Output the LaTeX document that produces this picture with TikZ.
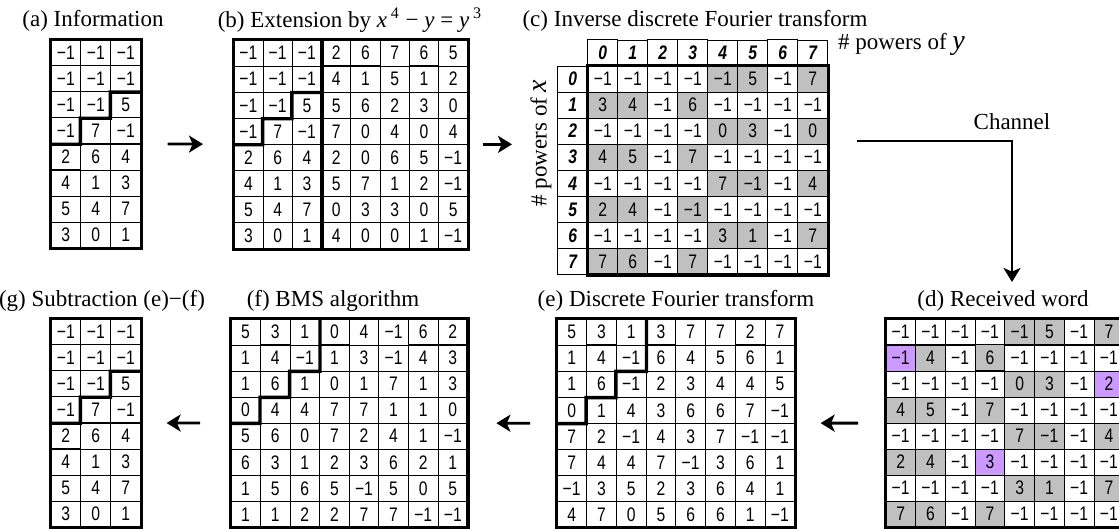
\documentclass[tikz,border=0pt]{standalone}
\usepackage{fontspec}
\setmainfont{Liberation Serif}
\newfontfamily\cellfont[FakeStretch=0.8]{Liberation Sans}
\usetikzlibrary{matrix,arrows.meta,positioning}

\definecolor{shdgray}{RGB}{192,192,192}
\definecolor{errviolet}{RGB}{204,153,255}
\newcommand{\mone}{−1}

\tikzset{
  cell/.style={draw, line width=0.4pt, inner sep=0pt, minimum height=13pt,
    font=\cellfont\fontsize{9.8}{10}\selectfont},
  hdr/.style={font=\cellfont\fontsize{9.8}{10}\selectfont\bfseries\itshape},
  grid/.style={matrix of nodes, inner sep=0pt, anchor=north west,
    column sep=-0.4pt, row sep=-0.4pt, nodes={cell, minimum width=#1}},
  grid/.default=14.875pt,
  shd/.style={fill=shdgray},
  err/.style={fill=errviolet},
  rim/.style={line width=1.7pt},
  ttl/.style={font=\fontsize{11.5}{14}\selectfont},
  flow/.style={line width=1.4pt, -{Stealth[length=7pt, width=8.5pt, inset=1.8pt]}}
}

\begin{document}
\begin{tikzpicture}[x=0.5pt, y=-0.5pt]
\useasboundingbox (0,0) rectangle (1119,529);

% titles
\node[ttl] (ta) at (93,21) {(a) Information};
\node[ttl] (tb) at (350,20) {(b) Extension by \textit{x}\,\textsuperscript{4} − \textit{y} = \textit{y}\,\textsuperscript{3}};
\node[ttl] (tc) at (695,21) {(c) Inverse discrete Fourier transform};
\node[ttl] (td) at (1003,301) {(d) Received word};
\node[ttl] (te) at (676,301) {(e) Discrete Fourier transform};
\node[ttl] (tf) at (333,301) {(f) BMS algorithm};
\node[ttl] (tg) at (102,301) {(g) Subtraction (e)−(f)};

% (a) information
\matrix[grid=15pt] (a) at (50,39) {
  \mone & \mone & \mone \\
  \mone & \mone & \mone \\
  \mone & \mone & 5 \\
  \mone & 7 & \mone \\
  2 & 6 & 4 \\
  4 & 1 & 3 \\
  5 & 4 & 7 \\
  3 & 0 & 1 \\
};
\draw[rim] (a-1-1.north west) rectangle (a-8-3.south east);
\draw[rim] (a-4-1.south west) -- (a-4-2.south west) -- (a-3-2.south west)
  -- (a-3-3.south west) -- (a-2-3.south west) -- (a-2-3.south east);

% (b) extension
\matrix[grid=14.625pt] (b) at (233,39) {
  \mone & \mone & \mone & 2 & 6 & 7 & 6 & 5 \\
  \mone & \mone & \mone & 4 & 1 & 5 & 1 & 2 \\
  \mone & \mone & 5 & 5 & 6 & 2 & 3 & 0 \\
  \mone & 7 & \mone & 7 & 0 & 4 & 0 & 4 \\
  2 & 6 & 4 & 2 & 0 & 6 & 5 & \mone \\
  4 & 1 & 3 & 5 & 7 & 1 & 2 & \mone \\
  5 & 4 & 7 & 0 & 3 & 3 & 0 & 5 \\
  3 & 0 & 1 & 4 & 0 & 0 & 1 & \mone \\
};
\draw[rim] (b-1-1.north west) rectangle (b-8-8.south east);
\draw[rim] (b-1-3.north east) -- (b-8-3.south east);
\draw[rim] (b-4-1.south west) -- (b-4-2.south west) -- (b-3-2.south west)
  -- (b-3-3.south west) -- (b-2-3.south west) -- (b-2-3.south east);

% (c) inverse DFT
\matrix[grid=15pt, row 1/.style={nodes={hdr}}, column 1/.style={nodes={hdr}}] (c) at (557,39) {
    & 0 & 1 & 2 & 3 & 4 & 5 & 6 & 7 \\
  0 & \mone & \mone & \mone & \mone & |[shd]|\mone & |[shd]|5 & \mone & |[shd]|7 \\
  1 & |[shd]|3 & |[shd]|4 & \mone & |[shd]|6 & \mone & \mone & \mone & \mone \\
  2 & \mone & \mone & \mone & \mone & |[shd]|0 & |[shd]|3 & \mone & |[shd]|0 \\
  3 & |[shd]|4 & |[shd]|5 & \mone & |[shd]|7 & \mone & \mone & \mone & \mone \\
  4 & \mone & \mone & \mone & \mone & |[shd]|7 & |[shd]|\mone & \mone & |[shd]|4 \\
  5 & |[shd]|2 & |[shd]|4 & \mone & |[shd]|\mone & \mone & \mone & \mone & \mone \\
  6 & \mone & \mone & \mone & \mone & |[shd]|3 & |[shd]|1 & \mone & |[shd]|7 \\
  7 & |[shd]|7 & |[shd]|6 & \mone & |[shd]|7 & \mone & \mone & \mone & \mone \\
};
\draw[rim] (c-2-2.north west) rectangle (c-9-9.south east);
\node[ttl, anchor=west] (py) at (831,44) {\# powers of {\fontsize{14}{14}\selectfont\textit{y}}};
\node[ttl, rotate=90] (px) at (541,143) {\# powers of {\fontsize{14}{14}\selectfont\textit{x}}};

% (d) received word
\matrix[grid] (d) at (885,318) {
  \mone & \mone & \mone & \mone & |[shd]|\mone & |[shd]|5 & \mone & |[shd]|7 \\
  |[err]|\mone & |[shd]|4 & \mone & |[shd]|6 & \mone & \mone & \mone & \mone \\
  \mone & \mone & \mone & \mone & |[shd]|0 & |[shd]|3 & \mone & |[err]|2 \\
  |[shd]|4 & |[shd]|5 & \mone & |[shd]|7 & \mone & \mone & \mone & \mone \\
  \mone & \mone & \mone & \mone & |[shd]|7 & |[shd]|\mone & \mone & |[shd]|4 \\
  |[shd]|2 & |[shd]|4 & \mone & |[err]|3 & \mone & \mone & \mone & \mone \\
  \mone & \mone & \mone & \mone & |[shd]|3 & |[shd]|1 & \mone & |[shd]|7 \\
  |[shd]|7 & |[shd]|6 & \mone & |[shd]|7 & \mone & \mone & \mone & \mone \\
};
\draw[rim] (d-1-1.north west) rectangle (d-8-8.south east);

% (e) DFT
\matrix[grid] (e) at (556,318) {
  5 & 3 & 1 & 3 & 7 & 7 & 2 & 7 \\
  1 & 4 & \mone & 6 & 4 & 5 & 6 & 1 \\
  1 & 6 & \mone & 2 & 3 & 4 & 4 & 5 \\
  0 & 1 & 4 & 3 & 6 & 6 & 7 & \mone \\
  7 & 2 & \mone & 4 & 3 & 7 & \mone & \mone \\
  7 & 4 & 4 & 7 & \mone & 3 & 6 & 1 \\
  \mone & 3 & 5 & 2 & 3 & 6 & 4 & 1 \\
  4 & 7 & 0 & 5 & 6 & 6 & 1 & \mone \\
};
\draw[rim] (e-1-1.north west) rectangle (e-8-8.south east);
\draw[rim] (e-4-1.south west) -- (e-4-2.south west) -- (e-3-2.south west)
  -- (e-3-3.south west) -- (e-2-3.south west) -- (e-2-3.south east) -- (e-1-3.north east);

% (f) BMS
\matrix[grid=14.8pt] (f) at (230,318) {
  5 & 3 & 1 & 0 & 4 & \mone & 6 & 2 \\
  1 & 4 & \mone & 1 & 3 & \mone & 4 & 3 \\
  1 & 6 & 1 & 0 & 1 & 7 & 1 & 3 \\
  0 & 4 & 4 & 7 & 7 & 1 & 1 & 0 \\
  5 & 6 & 0 & 7 & 2 & 4 & 1 & \mone \\
  6 & 3 & 1 & 2 & 3 & 6 & 2 & 1 \\
  1 & 5 & 6 & 5 & \mone & 5 & 0 & 5 \\
  1 & 1 & 2 & 2 & 7 & 7 & \mone & \mone \\
};
\draw[rim] (f-1-1.north west) rectangle (f-8-8.south east);
\draw[rim] (f-4-1.south west) -- (f-4-2.south west) -- (f-3-2.south west)
  -- (f-3-3.south west) -- (f-2-3.south west) -- (f-2-3.south east) -- (f-1-3.north east);

% (g) subtraction
\matrix[grid=15pt] (g) at (50,318) {
  \mone & \mone & \mone \\
  \mone & \mone & \mone \\
  \mone & \mone & 5 \\
  \mone & 7 & \mone \\
  2 & 6 & 4 \\
  4 & 1 & 3 \\
  5 & 4 & 7 \\
  3 & 0 & 1 \\
};
\draw[rim] (g-1-1.north west) rectangle (g-8-3.south east);
\draw[rim] (g-4-1.south west) -- (g-4-2.south west) -- (g-3-2.south west)
  -- (g-3-3.south west) -- (g-2-3.south west) -- (g-2-3.south east);

% arrows
\draw[flow, shorten <=13pt, shorten >=15pt] (a) -- (b);
\draw[flow, shorten <=7pt, shorten >=22.5pt] (b.east) -- (b.east -| c.west);
\coordinate (bend) at (1012,141);
\node[ttl] (chan) at (1012,122) {Channel};
\draw[flow, shorten <=14pt, shorten >=18pt] (c.east |- bend) -- (bend) -- (d.north -| bend);
\draw[flow, shorten <=13.5pt, shorten >=12.5pt] (d) -- (e);
\draw[flow, shorten <=13pt, shorten >=14pt] (e) -- (f);
\draw[flow, shorten <=15pt, shorten >=12.5pt] (f) -- (g);
\end{tikzpicture}
\end{document}
